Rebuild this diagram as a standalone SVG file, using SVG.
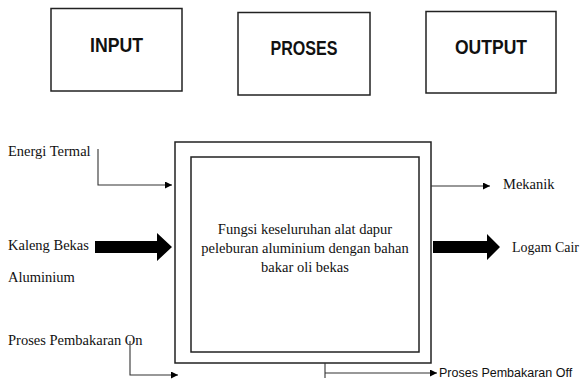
<svg xmlns="http://www.w3.org/2000/svg" width="581" height="383" viewBox="0 0 581 383">
<style>
.box{fill:#fff;stroke:#222;stroke-width:1.5}
.title{font-family:"Liberation Sans",Arial,sans-serif;font-weight:bold;font-size:20px;fill:#111;text-anchor:middle}
.lbl{font-family:"Liberation Serif","Times New Roman",serif;font-size:14.5px;fill:#111}
.sans{font-family:"Liberation Sans",Arial,sans-serif;font-size:12.5px;fill:#111}
.ln{fill:none;stroke:#333;stroke-width:1.1}
.fat{fill:#000}
</style>
<defs>
<marker id="ah" viewBox="0 0 10 10" refX="10" refY="5" markerWidth="8" markerHeight="7" markerUnits="userSpaceOnUse" orient="auto">
<path d="M0,0 L10,5 L0,10 z" fill="#000"/>
</marker>
</defs>
<rect width="581" height="383" fill="#fff"/>
<g id="input">
<rect class="box" x="51" y="8.5" width="131" height="82.5"/>
<text class="title" x="116.5" y="52" textLength="53" lengthAdjust="spacingAndGlyphs">INPUT</text>
</g>
<g id="proses">
<rect class="box" x="238" y="12.5" width="132" height="82.5"/>
<text class="title" x="304" y="55" textLength="67" lengthAdjust="spacingAndGlyphs">PROSES</text>
</g>
<g id="output">
<rect class="box" x="426" y="11.5" width="130" height="81.5"/>
<text class="title" x="491" y="54" textLength="72" lengthAdjust="spacingAndGlyphs">OUTPUT</text>
</g>
<g id="main">
<rect class="box" x="175" y="142" width="256" height="221"/>
<rect class="box" x="191" y="157" width="228" height="195"/>
<text class="lbl" x="305" y="234" text-anchor="middle">Fungsi keseluruhan alat dapur</text>
<text class="lbl" x="305" y="253" text-anchor="middle">peleburan aluminium dengan bahan</text>
<text class="lbl" x="305" y="272" text-anchor="middle">bakar oli bekas</text>
</g>
<g id="labels">
<text class="lbl" x="8" y="156">Energi Termal</text>
<text class="lbl" x="8" y="250">Kaleng Bekas</text>
<text class="lbl" x="8" y="282">Aluminium</text>
<text class="lbl" x="8" y="345">Proses Pembakaran On</text>
<text class="lbl" x="503" y="189">Mekanik</text>
<text class="lbl" x="512" y="252" textLength="67" lengthAdjust="spacingAndGlyphs">Logam Cair</text>
<text class="sans" x="439" y="377">Proses Pembakaran Off</text>
</g>
<g id="connectors">
<path class="ln" d="M98,149 V185 H172" marker-end="url(#ah)"/>
<path class="ln" d="M130,341 V375 H178" marker-end="url(#ah)"/>
<path class="ln" d="M431,186 H490" marker-end="url(#ah)"/>
<path class="ln" d="M325,363 V378 M325,373 H437" marker-end="url(#ah)"/>
<path class="fat" d="M95,241 H157 V233 L172,247 L157,261 V253 H95 z"/>
<path class="fat" d="M433,241 H487 V234 L500,247 L487,260 V253 H433 z"/>
</g>
</svg>
